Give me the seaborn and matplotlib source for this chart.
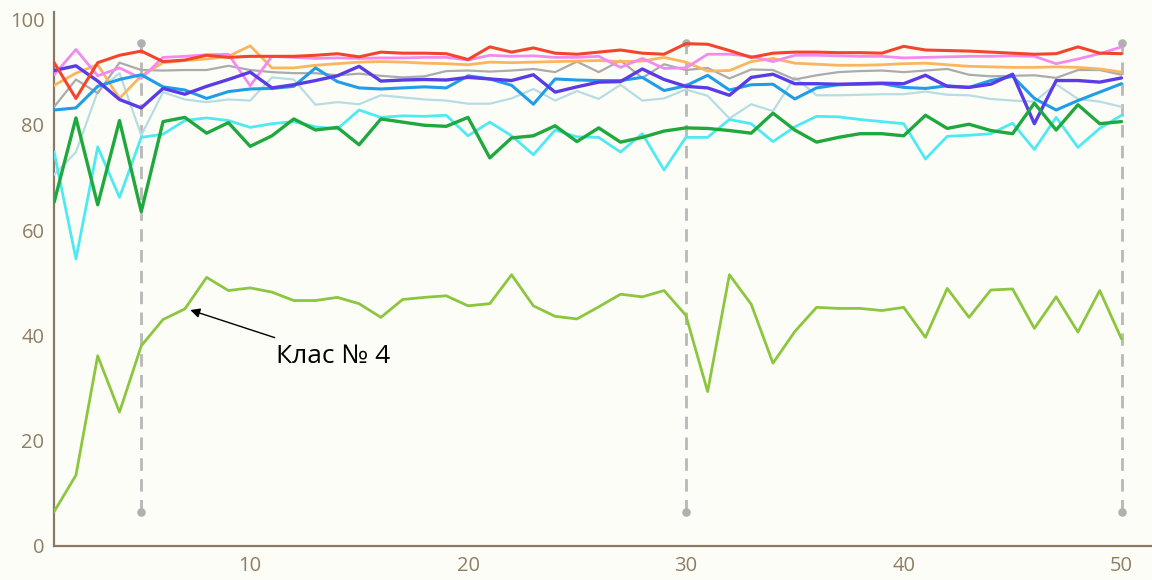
import numpy as np
import pandas as pd
import seaborn as sns
import matplotlib.pyplot as plt

# Epoch index
epochs = list(range(1, 51))

# Per-class accuracy (%) over epochs
class_red = [91.8, 85.0, 91.8, 93.2, 94.0, 92.0, 92.3, 93.2, 92.8, 93.0,
             93.0, 93.0, 93.2, 93.5, 92.9, 93.8, 93.6, 93.6, 93.5, 92.4,
             94.8, 93.8, 94.6, 93.6, 93.4, 93.8, 94.2, 93.6, 93.4, 95.4,
             95.3, 94.1, 92.8, 93.6, 93.8, 93.8, 93.7, 93.7, 93.6, 94.9,
             94.2, 94.1, 94.0, 93.8, 93.6, 93.4, 93.5, 94.8, 93.6, 93.5]
class_pink = [89.5, 94.3, 89.3, 90.8, 88.8, 92.8, 93.0, 93.3, 93.4, 87.4,
              93.0, 92.8, 92.6, 92.7, 92.6, 92.7, 92.7, 92.8, 92.8, 92.3,
              93.2, 93.0, 93.1, 92.8, 92.8, 93.0, 90.9, 92.6, 90.7, 90.8,
              93.4, 93.4, 93.0, 92.0, 93.2, 93.2, 93.1, 93.0, 93.0, 92.7,
              92.8, 92.9, 93.0, 93.0, 93.1, 93.0, 91.6, 92.5, 93.5, 94.8]
class_orange = [87.5, 89.8, 91.4, 85.0, 89.3, 91.8, 92.2, 92.5, 93.0, 95.0,
                90.8, 90.8, 91.3, 91.6, 91.9, 92.0, 91.9, 91.7, 91.6, 91.4,
                91.9, 91.8, 91.9, 92.0, 92.1, 92.2, 92.0, 92.1, 92.8, 91.9,
                90.2, 90.3, 92.0, 92.6, 91.7, 91.5, 91.3, 91.3, 91.4, 91.6,
                91.7, 91.4, 91.1, 91.0, 90.9, 90.9, 91.0, 90.9, 90.6, 90.0]
class_gray = [83.4, 88.6, 86.0, 91.8, 90.4, 90.3, 90.4, 90.4, 91.2, 90.4,
              90.0, 89.8, 89.8, 89.4, 89.7, 89.3, 89.0, 89.2, 90.2, 90.3,
              90.1, 90.3, 90.6, 90.0, 92.0, 90.0, 92.2, 88.9, 91.5, 90.4,
              90.8, 88.8, 90.5, 90.4, 88.6, 89.4, 90.0, 90.2, 90.3, 90.0,
              90.3, 90.6, 89.5, 89.2, 89.3, 89.4, 88.9, 90.4, 90.4, 89.5]
class_violet = [90.3, 91.2, 88.3, 84.8, 83.2, 86.9, 85.8, 87.3, 88.6, 90.0,
                87.0, 87.6, 88.4, 89.3, 91.1, 88.3, 88.5, 88.6, 88.5, 89.0,
                88.7, 88.4, 89.5, 86.2, 87.2, 88.1, 88.2, 90.6, 88.6, 87.3,
                87.0, 85.6, 89.0, 89.6, 87.8, 87.8, 87.7, 87.8, 87.9, 87.8,
                89.4, 87.3, 87.1, 87.7, 89.6, 80.2, 88.4, 88.4, 88.1, 88.9]
class_azure = [82.8, 83.2, 87.3, 88.6, 89.5, 87.2, 86.6, 85.0, 86.3, 86.8,
               86.9, 87.3, 90.8, 88.2, 87.0, 86.8, 87.0, 87.2, 87.0, 89.3,
               88.7, 87.5, 83.9, 88.7, 88.5, 88.4, 88.4, 89.0, 86.5, 87.4,
               89.4, 86.6, 87.6, 87.7, 84.9, 87.0, 87.6, 87.7, 87.8, 87.1,
               86.9, 87.4, 87.1, 88.4, 89.2, 85.0, 82.8, 84.6, 86.2, 87.8]
class_pale = [70.5, 74.8, 86.3, 89.8, 78.0, 86.2, 84.8, 84.3, 84.8, 84.6,
              89.0, 88.6, 83.8, 84.3, 83.9, 85.6, 85.2, 84.8, 84.6, 84.0,
              84.0, 85.0, 86.8, 84.6, 86.4, 84.9, 87.6, 84.6, 85.0, 86.7,
              85.5, 81.2, 83.9, 82.6, 89.0, 85.6, 85.6, 85.7, 85.8, 85.8,
              86.3, 85.7, 85.6, 84.9, 84.6, 84.4, 87.7, 84.9, 84.4, 83.4]
class_cyan = [74.8, 54.5, 75.8, 66.2, 77.6, 78.2, 80.8, 81.3, 80.8, 79.5,
              80.2, 80.6, 79.6, 79.2, 82.8, 81.4, 81.7, 81.6, 81.8, 77.9,
              80.5, 77.9, 74.3, 79.0, 77.7, 77.6, 74.8, 78.3, 71.4, 77.6,
              77.6, 81.0, 80.2, 76.8, 79.6, 81.6, 81.5, 81.0, 80.6, 80.2,
              73.5, 77.8, 78.0, 78.3, 80.3, 75.3, 81.4, 75.7, 79.3, 81.8]
class_green = [65.3, 81.3, 64.8, 80.8, 63.5, 80.6, 81.4, 78.4, 80.4, 75.9,
               77.9, 81.1, 79.0, 79.5, 76.2, 81.1, 80.5, 79.9, 79.7, 81.4,
               73.7, 77.5, 77.9, 79.8, 76.8, 79.4, 76.7, 77.6, 78.8, 79.4,
               79.3, 78.9, 78.4, 82.2, 79.0, 76.7, 77.6, 78.3, 78.3, 77.9,
               81.8, 79.3, 80.1, 78.9, 78.3, 84.1, 79.0, 83.8, 80.2, 80.6]
class_4 = [6.5, 13.4, 36.1, 25.4, 38.0, 43.0, 45.0, 51.0, 48.5, 49.0,
           48.2, 46.6, 46.6, 47.2, 46.0, 43.4, 46.8, 47.2, 47.5, 45.6,
           46.0, 51.5, 45.6, 43.6, 43.1, 45.4, 47.8, 47.3, 48.5, 43.8,
           29.3, 51.5, 45.9, 34.7, 40.7, 45.3, 45.1, 45.1, 44.7, 45.3,
           39.6, 48.9, 43.4, 48.6, 48.8, 41.3, 47.3, 40.6, 48.5, 39.3]

# Checkpoint markers
checkpoint_epochs = [5, 30, 50]
checkpoint_span = [6.4, 95.5]

y_ticks = [0, 20, 40, 60, 80, 100]
x_ticks = [10, 20, 30, 40, 50]
annotation_text = "Клас № 4"

# drawing order: (values, colour, width)
series = [
    (class_pale, "#b6dde2", 1.6),
    (class_gray, "#ababab", 1.6),
    (class_cyan, "#4fe9f2", 2.0),
    (class_orange, "#fbb55e", 2.0),
    (class_pink, "#f28af0", 2.0),
    (class_azure, "#1f9de8", 2.2),
    (class_violet, "#5a3ce6", 2.4),
    (class_red, "#f2452c", 2.2),
    (class_green, "#1fa83e", 2.4),
    (class_4, "#8cc63f", 2.0),
]

sns.set_theme(style="white")
plt.rcParams['font.family'] = ['Open Sans', 'DejaVu Sans']
plt.rcParams['lines.scale_dashes'] = False

bg = "#fdfdf8"
fig = plt.figure(figsize=(11.52, 5.8), dpi=100, facecolor=bg)
ax = fig.add_axes([0.047, 0.059, 0.953, 0.921])
ax.set_facecolor(bg)

# dashed checkpoint guides with end dots
for xc in checkpoint_epochs:
    ax.plot([xc, xc], checkpoint_span, color="#b8b8b8", lw=2.0,
            dashes=(9, 6), zorder=1)
    ax.scatter([xc, xc], checkpoint_span, s=38, color="#b0b0b0",
               zorder=1, linewidths=0)

for vals, col, lw in series:
    sns.lineplot(x=epochs, y=vals, color=col, linewidth=lw, ax=ax,
                 zorder=3, clip_on=True)

ax.annotate(annotation_text, xy=(7.25, 44.8), xytext=(11.2, 35.9),
            fontsize=19, color="black", va="center", ha="left",
            family=['Open Sans', 'DejaVu Sans'],
            arrowprops=dict(arrowstyle="-|>", color="black", lw=1.0,
                            shrinkA=8, shrinkB=0, mutation_scale=14))

ax.set_xlim(1, 51.4)
ax.set_ylim(0, 101.5)
ax.set_xticks(x_ticks)
ax.set_yticks(y_ticks)
ax.tick_params(length=0, labelsize=14.5, labelcolor="#8f7e66", pad=7)
for side in ("top", "right"):
    ax.spines[side].set_visible(False)
for side in ("left", "bottom"):
    ax.spines[side].set_color("#8a7a62")
    ax.spines[side].set_linewidth(1.6)
ax.set_xlabel("")
ax.set_ylabel("")
ax.grid(False)

fig.savefig("out.png", dpi=100, facecolor=bg)
